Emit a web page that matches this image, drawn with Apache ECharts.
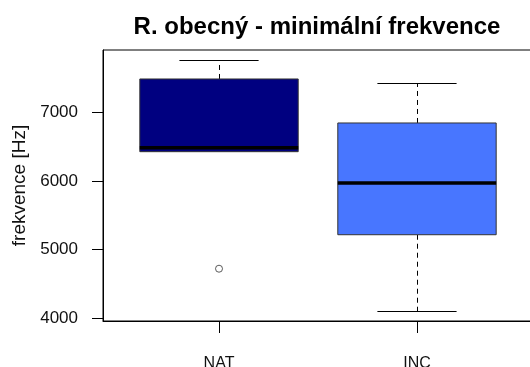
<!DOCTYPE html>
<html>
<head>
<meta charset="utf-8">
<script src="https://cdn.jsdelivr.net/npm/echarts@6/dist/echarts.min.js"></script>
<style>
  html, body { margin: 0; padding: 0; background: #fff; }
  #chart { width: 530px; height: 367px; }
</style>
</head>
<body>
<div id="chart"></div>
<script>
// Groups and their five-number summaries: [lower whisker, Q1, median, Q3, upper whisker]
const categories = ['NAT', 'INC'];
const lowerWhisker = [6431, 4100];
const quartile1 = [6431, 5219];
const median = [6490, 5974];
const quartile3 = [7492, 6850];
const upperWhisker = [7763, 7434];
const fillColors = ['#000080', '#4876FF'];
// Points beyond the whiskers: [group index, value]
const outliers = [[0, 4723]];
const yTicks = [4000, 5000, 6000, 7000];

const BOX_WIDTH = 0.8;   // in x-axis units
const CAP_WIDTH = 0.4;

const boxData = categories.map((c, i) => [i + 1, lowerWhisker[i], quartile1[i], median[i], quartile3[i], upperWhisker[i], i]);

// snap a 1px line to the pixel grid so it stays crisp
const crisp = v => Math.round(v) + 0.5;

function renderBox(params, api) {
  const x = api.value(0);
  const lo = api.value(1), q1 = api.value(2), md = api.value(3), q3 = api.value(4), hi = api.value(5);
  const idx = api.value(6);
  const left = api.coord([x - BOX_WIDTH / 2, q3]);
  const right = api.coord([x + BOX_WIDTH / 2, q1]);
  const capL = api.coord([x - CAP_WIDTH / 2, hi])[0];
  const capR = api.coord([x + CAP_WIDTH / 2, hi])[0];
  const cx = crisp(api.coord([x, md])[0]);
  const yLo = crisp(api.coord([x, lo])[1]), yQ1 = api.coord([x, q1])[1], yMd = api.coord([x, md])[1];
  const yQ3 = api.coord([x, q3])[1], yHi = crisp(api.coord([x, hi])[1]);
  const children = [];
  // whiskers (dashed)
  if (yHi < yQ3) children.push({ type: 'line', shape: { x1: cx, y1: yQ3, x2: cx, y2: yHi }, style: { stroke: '#000', lineWidth: 1, lineDash: [5, 4] } });
  if (yLo > yQ1 + 1) children.push({ type: 'line', shape: { x1: cx, y1: yQ1, x2: cx, y2: yLo }, style: { stroke: '#000', lineWidth: 1, lineDash: [5, 4] } });
  // staples
  children.push({ type: 'line', shape: { x1: capL, y1: yHi, x2: capR, y2: yHi }, style: { stroke: '#000', lineWidth: 1 } });
  if (yLo > yQ1 + 1) children.push({ type: 'line', shape: { x1: capL, y1: yLo, x2: capR, y2: yLo }, style: { stroke: '#000', lineWidth: 1 } });
  // box
  children.push({ type: 'rect', shape: { x: left[0], y: left[1], width: right[0] - left[0], height: right[1] - left[1] }, style: { fill: fillColors[idx], stroke: '#333', lineWidth: 1 } });
  // median
  children.push({ type: 'line', shape: { x1: left[0], y1: yMd, x2: right[0], y2: yMd }, style: { stroke: '#000', lineWidth: 3.5 } });
  return { type: 'group', children: children };
}

const chart = echarts.init(document.getElementById('chart'), null, { renderer: 'canvas' });
chart.setOption({
  animation: false,
  backgroundColor: '#fff',
  title: {
    text: 'R. obecný - minimální frekvence',
    left: 312,
    textAlign: 'center',
    top: 10,
    textStyle: { fontFamily: 'Liberation Sans, Arial, sans-serif', fontSize: 24, fontWeight: 'bold', color: '#000' }
  },
  grid: {
    left: 103, right: -3, top: 50, bottom: 46,
    outerBoundsMode: 'none',
    containLabel: false,
    show: true, borderColor: '#000', borderWidth: 1, backgroundColor: 'transparent'
  },
  xAxis: {
    type: 'value',
    min: 0.414, max: 2.586,
    axisLine: { show: true, onZero: false, lineStyle: { color: '#000', width: 1 } },
    axisTick: { show: true, length: 12, customValues: [1, 2], lineStyle: { color: '#000' } },
    axisLabel: {
      customValues: [1, 2],
      margin: 35,
      formatter: v => categories[Math.round(v) - 1] || '',
      fontFamily: 'Liberation Sans, Arial, sans-serif', fontSize: 16, color: '#111'
    },
    splitLine: { show: false }
  },
  yAxis: {
    type: 'value',
    min: 3960, max: 7915,
    name: 'frekvence [Hz]',
    nameLocation: 'middle',
    nameGap: 73,
    nameTextStyle: { fontFamily: 'Liberation Sans, Arial, sans-serif', fontSize: 19, color: '#111' },
    axisLine: { show: true, lineStyle: { color: '#000', width: 1 } },
    axisTick: { show: true, length: 11, customValues: yTicks, lineStyle: { color: '#000' } },
    axisLabel: {
      customValues: yTicks,
      margin: 25,
      formatter: v => String(v),
      fontFamily: 'Liberation Sans, Arial, sans-serif', fontSize: 17, color: '#111'
    },
    splitLine: { show: false }
  },
  series: [
    {
      type: 'custom',
      renderItem: renderBox,
      data: boxData,
      encode: { x: 0, y: [1, 2, 3, 4, 5] },
      silent: true
    },
    {
      type: 'scatter',
      data: outliers.map(o => [o[0] + 1, o[1]]),
      symbol: 'circle',
      symbolSize: 7,
      itemStyle: { color: '#fff', borderColor: '#333', borderWidth: 1 },
      z: 5,
      silent: true
    }
  ]
});
</script>
</body>
</html>
